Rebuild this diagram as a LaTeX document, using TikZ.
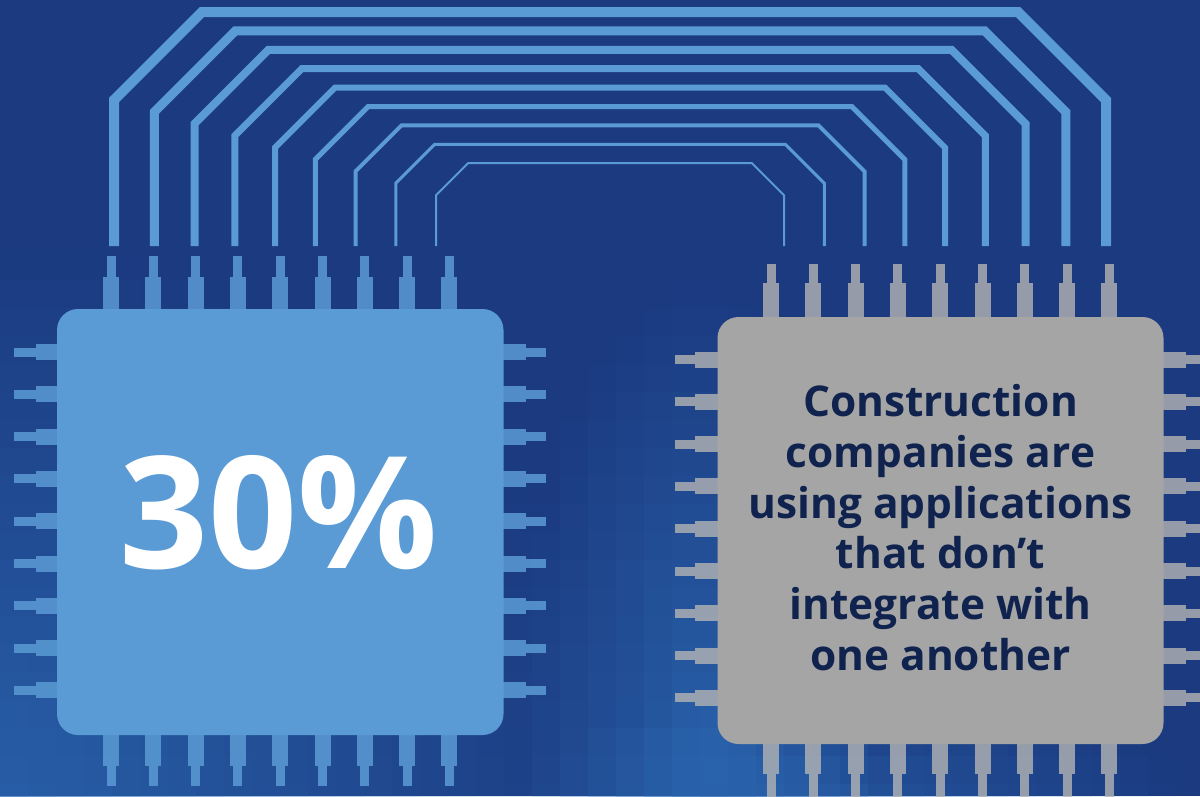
\documentclass[tikz,border=0pt]{standalone}
\usepackage{fontspec}
\setmainfont{Open Sans}
\definecolor{navy}{HTML}{1B3A80}
\definecolor{mosaic}{HTML}{2C6BB4}
\definecolor{chipblue}{HTML}{5B9BD5}
\definecolor{chipgray}{HTML}{A5A5A5}
\definecolor{pingray}{HTML}{B4B4B4}
\definecolor{inknavy}{HTML}{10234F}

\begin{document}
\begin{tikzpicture}[x=1pt,y=-1pt,
    chip/.style={rectangle,rounded corners=21pt,inner sep=0pt},
    pinL/.style={fill=chipblue,opacity=0.85},
    pinR/.style={fill=pingray,opacity=0.8}]
               \useasboundingbox (0,0) rectangle (1200,796);
               \clip (0,0) rectangle (1200,796);
               \fill[navy] (0,0) rectangle (1200,796);
               % pixel mosaic
               \foreach \c in {0,...,42}{
                 \foreach \r in {0,...,28}{
                   \pgfmathsetmacro{\cx}{\c*28+14}
                   \pgfmathsetmacro{\cy}{\r*28+14}
                   \pgfmathsetmacro{\op}{min(1,0.75*max(0,1-veclen(\cx/650,(\cy-800)/560))+0.7*max(0,1-veclen((\cx-700)/180,(\cy-700)/420))+0.5*max(0,1-veclen((\cx-850)/350,(\cy-800)/120)))}
                   \fill[mosaic,opacity=\op] (\c*28,\r*28) rectangle ++(28,28);
                 }
               }
               % wires
               \foreach \i in {0,...,8}{
                 \pgfmathsetmacro{\L}{114+40.25*\i}
                 \pgfmathsetmacro{\R}{1220-\L}
                 \pgfmathsetmacro{\T}{12+18.9*\i}
                 \pgfmathsetmacro{\D}{100+11.9*\i}
                 \pgfmathsetmacro{\w}{10-\i}
                 \draw[chipblue,line width=\w pt] (\L,246) -- (\L,\D) -- (\L+\D-\T,\T) -- (\R-\D+\T,\T) -- (\R,\D) -- (\R,246);
               }
               % pins
               \foreach \k in {0,...,8}{
                 \pgfmathsetmacro{\px}{111+42.3*\k}
                 \pgfmathsetmacro{\py}{352+42.3*\k}
                 \fill[pinL] (\px-4.5,256) rectangle (\px+4.5,277);
                 \fill[pinL] (\px-8,277) rectangle (\px+8,312);
                 \fill[pinL] (\px-8,733) rectangle (\px+8,766);
                 \fill[pinL] (\px-4.5,766) rectangle (\px+4.5,786);
                 \fill[pinL] (14,\py-4.5) rectangle (36,\py+4.5);
                 \fill[pinL] (36,\py-8) rectangle (59,\py+8);
                 \fill[pinL] (501,\py-8) rectangle (526,\py+8);
                 \fill[pinL] (526,\py-4.5) rectangle (546,\py+4.5);
                 \pgfmathsetmacro{\qx}{771+42.3*\k}
                 \pgfmathsetmacro{\qy}{359.5+42.3*\k}
                 \fill[pinR] (\qx-4.5,264) rectangle (\qx+4.5,283);
                 \fill[pinR] (\qx-8,283) rectangle (\qx+8,319);
                 \fill[pinR] (\qx-8,742) rectangle (\qx+8,774);
                 \fill[pinR] (\qx-4.5,774) rectangle (\qx+4.5,800);
                 \fill[pinR] (675,\qy-4.5) rectangle (695,\qy+4.5);
                 \fill[pinR] (695,\qy-8) rectangle (719.5,\qy+8);
                 \fill[pinR] (1161.5,\qy-8) rectangle (1186,\qy+8);
                 \fill[pinR] (1186,\qy-4.5) rectangle (1210,\qy+4.5);
               }
               % chips
               \node[chip,fill=chipblue,minimum width=446.5pt,minimum height=426pt] (chipL) at (280.25,522) {};
               \node[chip,fill=chipgray,minimum width=446pt,minimum height=427pt] (chipR) at (940.5,530.5) {};
               \node[text=white,font=\bfseries\fontsize{156}{156}\selectfont,inner sep=0pt] (share) at (278.5,512.5) {30\%};
               \node[text=inknavy,align=center,font=\bfseries\fontsize{42.4}{50.8}\selectfont,inner sep=0pt] (claim) at (940.5,527.5) {Construction\\companies are\\using applications\\that don’t\\integrate with\\one another};
            \end{tikzpicture}
\end{document}
